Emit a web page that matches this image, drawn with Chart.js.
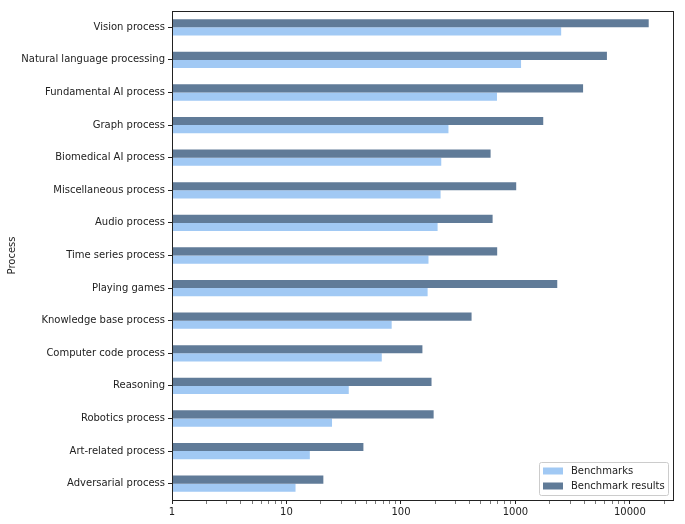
<!DOCTYPE html>
<html>
<head>
<meta charset="utf-8">
<script src="https://cdn.jsdelivr.net/npm/chart.js@4"></script>
<style>
  html, body { margin: 0; padding: 0; background: #fff; }
  #wrap { width: 685px; height: 524px; position: relative; }
</style>
</head>
<body>
<div id="wrap"><canvas id="chart"></canvas></div>
<script>
// categories, top to bottom
const processes = [
    'Vision process', 'Natural language processing', 'Fundamental AI process',
    'Graph process', 'Biomedical AI process', 'Miscellaneous process',
    'Audio process', 'Time series process', 'Playing games',
    'Knowledge base process', 'Computer code process', 'Reasoning',
    'Robotics process', 'Art-related process', 'Adversarial process'
];
const benchmarks = [2510, 1120, 690, 260, 225, 222, 209, 174, 171, 83, 68, 35, 25, 16, 12];
const benchmarkResults = [14600, 6300, 3900, 1750, 607, 1016, 632, 693, 2320, 414, 154, 185, 193, 47, 21];
const xTickValues = [1, 10, 100, 1000, 10000];

const FONT = "'DejaVu Sans', sans-serif";
const INK = '#222';

// minor ticks 2..9 for each decade
function logTicks(max) {
    const out = [];
    for (let d = 1; d <= max; d *= 10) {
        for (let m = 1; m <= 9; m++) {
            if (d * m <= max) out.push({ value: d * m });
        }
    }
    return out;
}

// draws the box on all four sides, like matplotlib spines
const frame = {
    id: 'frame',
    afterDraw(chart) {
        const a = chart.chartArea, c = chart.ctx;
        c.save();
        c.strokeStyle = INK;
        c.lineWidth = 1;
        c.strokeRect(Math.round(a.left) + 0.5, Math.round(a.top) + 0.5,
            Math.round(a.right - a.left), Math.round(a.bottom - a.top));
        c.restore();
    }
};

// legend in the lower right corner inside the plot
const innerLegend = {
    id: 'innerLegend',
    afterDraw(chart) {
        const a = chart.chartArea, c = chart.ctx;
        const items = chart.data.datasets.slice().reverse();
        c.save();
        c.font = '10px ' + FONT;
        let tw = 0;
        items.forEach(d => { tw = Math.max(tw, c.measureText(d.label).width); });
        const w = Math.round(4 + 20 + 8 + tw + 3);
        const h = 33;
        const x = Math.round(a.right - 5 - w), y = Math.round(a.bottom - 5 - h);
        c.fillStyle = 'rgba(255,255,255,0.8)';
        c.strokeStyle = '#ccc';
        c.lineWidth = 1;
        c.beginPath();
        c.roundRect(x + 0.5, y + 0.5, w, h, 2);
        c.fill();
        c.stroke();
        items.forEach((d, i) => {
            const cy = y + 9 + i * 15;
            c.fillStyle = d.backgroundColor;
            c.fillRect(x + 4, cy - 3.5, 20, 7);
            c.fillStyle = INK;
            c.textBaseline = 'middle';
            c.fillText(d.label, x + 32, cy);
        });
        c.restore();
    }
};

new Chart(document.getElementById('chart'), {
    type: 'bar',
    data: {
        labels: processes,
        datasets: [
            { label: 'Benchmark results', data: benchmarkResults, backgroundColor: '#607b98' },
            { label: 'Benchmarks', data: benchmarks, backgroundColor: '#a1c9f4' }
        ]
    },
    options: {
        indexAxis: 'y',
        responsive: true,
        maintainAspectRatio: false,
        animation: false,
        categoryPercentage: 0.5,
        barPercentage: 1.0,
        layout: { padding: { top: 11, right: 12, bottom: 0, left: 0 } },
        plugins: {
            legend: { display: false },
            tooltip: { enabled: false }
        },
        scales: {
            x: {
                type: 'logarithmic',
                min: 1,
                max: 23800,
                afterBuildTicks: s => { s.ticks = logTicks(s.max); },
                afterFit: s => { s.height = 24; },
                border: { display: true, color: INK, width: 1 },
                grid: {
                    drawOnChartArea: false,
                    drawTicks: true,
                    tickLength: 4,
                    tickColor: INK,
                    tickWidth: ctx => xTickValues.includes(ctx.tick && ctx.tick.value) ? 1 : 0.6
                },
                ticks: {
                    autoSkip: false,
                    maxRotation: 0,
                    padding: 2,
                    color: INK,
                    font: { family: FONT, size: 10 },
                    callback: v => xTickValues.includes(v) ? String(v) : ''
                }
            },
            y: {
                afterFit: s => { s.width = 172; },
                border: { display: true, color: INK, width: 1 },
                grid: { drawOnChartArea: false, offset: false, tickLength: 4, tickColor: INK },
                ticks: {
                    padding: 3,
                    color: INK,
                    font: { family: FONT, size: 10 }
                },
                title: {
                    display: true,
                    text: 'Process',
                    color: INK,
                    font: { family: FONT, size: 10 },
                    padding: { top: 6, bottom: 0 }
                }
            }
        }
    },
    plugins: [frame, innerLegend]
});
</script>
</body>
</html>
